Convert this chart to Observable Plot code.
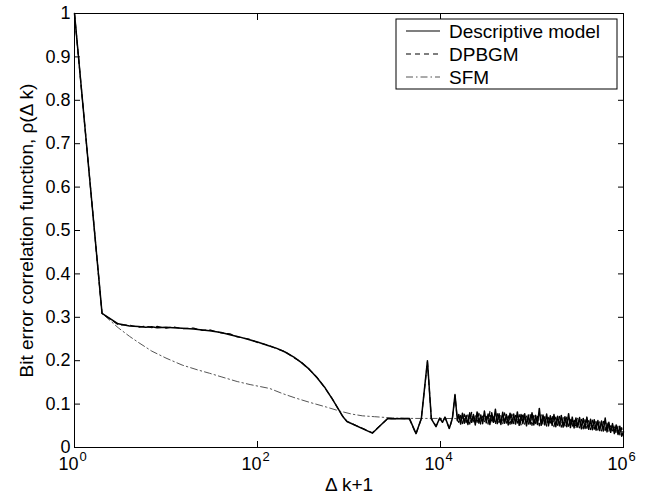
<!DOCTYPE html>
<html><head><meta charset="utf-8">
<script src="https://cdn.jsdelivr.net/npm/d3@7"></script>
<script src="https://cdn.jsdelivr.net/npm/@observablehq/plot@0.6"></script>
<style>body{margin:0;background:#fff} svg{display:block}</style>
</head><body><div id="chart"></div>
<script>
// ---- data ----
const xTicks = [1, 100, 10000, 1000000];
const yTicks = [0, 0.1, 0.2, 0.3, 0.4, 0.5, 0.6, 0.7, 0.8, 0.9, 1];
const xLabel = "Δ k+1";
const yLabel = "Bit error correlation function, ρ(Δ k)";
const seriesNames = ["Descriptive model", "DPBGM", "SFM"];

// early (k < ~1.5e4) part, shared x grid for Descriptive model and DPBGM
const headX = [1,2,3,4,5,6,7,8,10,12,15,20,25,30,40,50,60,80,100,130,160,200,250,300,370,450,550,650,750,850,950,1800,2640,3500,4570,5400,6170,7200,7940,8930,9800,10500,11200,12500,13500,14400,15300];
const descHeadY = [1.0,0.309,0.285,0.280,0.279,0.277,0.278,0.276,0.277,0.276,0.275,0.273,0.271,0.269,0.265,0.260,0.256,0.249,0.243,0.235,0.229,0.220,0.208,0.196,0.180,0.160,0.137,0.113,0.092,0.072,0.060,0.033,0.067,0.066,0.067,0.032,0.066,0.200,0.066,0.048,0.068,0.058,0.070,0.044,0.068,0.122,0.062];
const dpbgmHeadY = [1.0,0.309,0.283,0.282,0.277,0.280,0.276,0.279,0.275,0.278,0.274,0.275,0.270,0.271,0.264,0.262,0.255,0.250,0.242,0.236,0.228,0.221,0.207,0.197,0.179,0.161,0.136,0.114,0.091,0.073,0.060,0.034,0.066,0.067,0.066,0.031,0.067,0.197,0.067,0.049,0.067,0.060,0.069,0.043,0.067,0.120,0.063];

// noisy tail (1.6e4 .. 1e6)
const tailX = [15849,16596,17378,18197,19055,19953,20893,21878,22909,23988,25119,26303,27542,28840,30200,31623,33113,34674,36308,38019,39811,41687,43652,45709,47863,50119,52481,54954,57544,60256,63096,66069,69183,72444,75858,79433,83176,87096,91201,95499,100000,104713,109648,114815,120226,125893,131826,138038,144544,151356,158489,165959,173780,181970,190546,199526,208930,218776,229087,239883,251189,263027,275423,288403,301995,316228,331131,346737,363078,380189,398107,416869,436516,457088,478630,501187,524807,549541,575440,602560,630957,660693,691831,724436,758578,794328,831764,870964,912011,954993,1000000];
const descTailY = [0.076,0.054,0.079,0.056,0.074,0.053,0.080,0.058,0.076,0.052,0.082,0.056,0.075,0.055,0.084,0.057,0.077,0.053,0.080,0.058,0.088,0.055,0.078,0.053,0.081,0.056,0.076,0.052,0.079,0.055,0.077,0.054,0.082,0.051,0.076,0.055,0.078,0.050,0.075,0.054,0.080,0.052,0.074,0.053,0.090,0.051,0.075,0.052,0.077,0.050,0.073,0.051,0.076,0.048,0.072,0.050,0.074,0.047,0.071,0.048,0.078,0.046,0.070,0.045,0.068,0.047,0.069,0.043,0.067,0.044,0.070,0.042,0.065,0.041,0.064,0.040,0.062,0.039,0.061,0.038,0.068,0.036,0.058,0.035,0.055,0.032,0.052,0.030,0.049,0.026,0.036];
const dpbgmTailY = [0.058,0.074,0.055,0.077,0.057,0.075,0.054,0.081,0.056,0.073,0.058,0.079,0.053,0.076,0.059,0.072,0.054,0.083,0.056,0.075,0.053,0.078,0.057,0.074,0.054,0.080,0.056,0.073,0.053,0.077,0.055,0.074,0.056,0.076,0.052,0.079,0.054,0.073,0.053,0.076,0.051,0.074,0.055,0.072,0.050,0.075,0.053,0.071,0.049,0.073,0.052,0.074,0.048,0.070,0.051,0.072,0.047,0.069,0.049,0.070,0.045,0.068,0.047,0.066,0.044,0.067,0.045,0.065,0.043,0.064,0.044,0.062,0.041,0.063,0.042,0.060,0.040,0.059,0.038,0.060,0.039,0.056,0.037,0.054,0.034,0.052,0.032,0.049,0.029,0.046,0.027];

// SFM
const sfmX = [1,2,3,4,5,7,10,15,22,30,40,60,83,136,189,260,372,570,789,1070,1400,1900,3000,5000,10000,30000,100000,300000,600000,1000000];
const sfmY = [1.0,0.309,0.276,0.256,0.242,0.222,0.206,0.190,0.179,0.171,0.163,0.152,0.145,0.136,0.124,0.114,0.104,0.093,0.084,0.077,0.073,0.071,0.068,0.067,0.067,0.066,0.064,0.055,0.048,0.036];

// ---- build tables ----
const allX = headX.concat(tailX);
const descAllY = descHeadY.concat(descTailY);
const dpbgmAllY = dpbgmHeadY.concat(dpbgmTailY);
const desc = allX.map((x, i) => ({x, y: descAllY[i]}));
const dpbgm = allX.map((x, i) => ({x, y: dpbgmAllY[i]}));
const sfm = sfmX.map((x, i) => ({x, y: sfmY[i]}));

const font = "'Liberation Sans', Arial, Helvetica, sans-serif";
const styles = [
  {stroke: "black", strokeWidth: 1.5, dash: null},
  {stroke: "black", strokeWidth: 1.2, dash: "5,4"},
  {stroke: "#555", strokeWidth: 1, dash: "7,3,1.5,3"}
];

const chart = Plot.plot({
  width: 651, height: 502,
  marginLeft: 74, marginRight: 28, marginTop: 13, marginBottom: 55,
  style: {fontFamily: font, fontSize: "18px", color: "black", background: "white"},
  x: {type: "log", domain: [1, 1e6]},
  y: {domain: [0, 1]},
  marks: [
    Plot.lineY(sfm, {x: "x", y: "y", stroke: styles[2].stroke, strokeWidth: styles[2].strokeWidth, strokeDasharray: styles[2].dash}),
    Plot.lineY(dpbgm, {x: "x", y: "y", stroke: styles[1].stroke, strokeWidth: styles[1].strokeWidth, strokeDasharray: styles[1].dash}),
    Plot.lineY(desc, {x: "x", y: "y", stroke: styles[0].stroke, strokeWidth: styles[0].strokeWidth}),
    Plot.frame({stroke: "black"}),
    Plot.axisY({ticks: yTicks, tickSize: 0, tickPadding: 4, tickFormat: d => String(d), label: null}),
    Plot.axisY({ticks: yTicks, anchor: "left", tickSize: 6, dx: 6, tickFormat: () => "", label: null}),
    Plot.axisY({ticks: yTicks, anchor: "right", tickSize: 6, dx: -6, tickFormat: () => "", label: null}),
    Plot.axisX({ticks: xTicks, anchor: "bottom", tickSize: 6, dy: -6, tickFormat: () => "", label: null}),
    Plot.axisX({ticks: xTicks, anchor: "top", tickSize: 6, dy: 6, tickFormat: () => "", label: null}),
    Plot.text(xTicks, {x: d => d, frameAnchor: "bottom", dy: 22, dx: 4, textAnchor: "end", text: () => "10"}),
    Plot.text(xTicks, {x: d => d, frameAnchor: "bottom", dy: 13, dx: 5, textAnchor: "start", fontSize: 13, text: d => String(Math.round(Math.log10(d)))}),
    Plot.text([xLabel], {frameAnchor: "bottom", dy: 43, fontSize: 19, text: d => d}),
    Plot.text([yLabel], {frameAnchor: "left", dx: -48, rotate: -90, textAnchor: "middle", fontSize: 19, text: d => d})
  ]
});
document.getElementById("chart").appendChild(chart);

// ---- legend (MATLAB-style box, top right inside axes) ----
const svg = d3.select(chart);
const lg = svg.append("g").attr("font-family", font).attr("font-size", 19).attr("text-anchor", "start");
lg.append("rect").attr("x", 396).attr("y", 19).attr("width", 221).attr("height", 70)
  .attr("fill", "white").attr("stroke", "black").attr("stroke-width", 1);
seriesNames.forEach((name, i) => {
  const y = 31 + i * 23;
  const s = styles[i];
  lg.append("line").attr("x1", 406).attr("x2", 440).attr("y1", y).attr("y2", y)
    .attr("stroke", s.stroke).attr("stroke-width", Math.min(s.strokeWidth, 1.2))
    .attr("stroke-dasharray", s.dash);
  lg.append("text").attr("x", 449).attr("y", y).attr("dy", "0.35em")
    .attr("text-anchor", "start").attr("fill", "black").text(name);
});
</script>
</body></html>
